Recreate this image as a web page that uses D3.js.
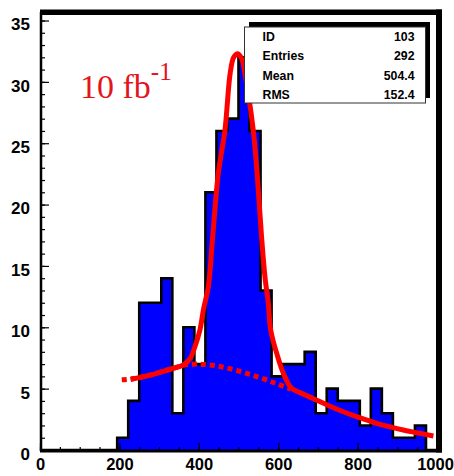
<!DOCTYPE html>
<html>
<head>
<meta charset="utf-8">
<script src="https://cdn.jsdelivr.net/npm/d3@7"></script>
<style>
  html, body { margin: 0; padding: 0; background: #fff; }
  svg { display: block; }
</style>
</head>
<body>
<svg id="chart" width="454" height="476"></svg>
<script>
// ---- data ----
const binLow = 0, binHigh = 1000, nBins = 36;
const binCounts = [0,0,0,0,0,0,0,1,4,12,12,14,3,10,7,21,26,27,32,26,13,6,7,7,8,3,5,4,4,2,5,3,1,1,2,0];
const xTicks = [0, 200, 400, 600, 800, 1000];
const yTicks = [0, 5, 10, 15, 20, 25, 30, 35];
// total fit (signal + background)
const fitX = [228, 277, 319, 361, 378, 390, 403, 412, 424, 435, 449, 466, 479, 488, 498, 508, 516, 537, 547, 558, 567, 575, 580, 588, 596, 613, 634, 660, 688, 725, 764, 805, 848, 880, 915, 950, 991];
const fitY = [5.75, 6.1, 6.5, 6.93, 7.45, 8.4, 9.8, 11.5, 13.3, 17.4, 22.5, 26.1, 30.7, 32.0, 32.3, 31.9, 30.7, 26.1, 22.5, 17.4, 14.0, 12.0, 10.0, 8.8, 7.9, 6.25, 5.03, 4.6, 4.2, 3.65, 3.12, 2.63, 2.17, 1.9, 1.63, 1.4, 1.14];
// background component (dashed)
const bkgX = [206, 231, 277, 319, 361, 395, 445, 504, 554, 596, 632];
const bkgY = [5.72, 5.8, 6.1, 6.5, 6.9, 7.0, 6.85, 6.4, 5.9, 5.4, 4.95];
const statLabels = ["ID", "Entries", "Mean", "RMS"];
const statValues = ["103", "292", "504.4", "152.4"];

// ---- drawing ----
const svg = d3.select("#chart");
const x = d3.scaleLinear().domain([0, 1000]).range([40, 437]);
const y = d3.scaleLinear().domain([0, 35]).range([450, 20.5]);
const bw = (binHigh - binLow) / nBins;
const bins = binCounts.map((c, i) => ({ x0: binLow + i * bw, x1: binLow + (i + 1) * bw, c }));

// frame heavy borders (top & right)
svg.append("rect").attr("x", 40).attr("y", 9.5).attr("width", 402).attr("height", 5.5).attr("fill", "#000");
svg.append("rect").attr("x", 436).attr("y", 9.5).attr("width", 6).attr("height", 443).attr("fill", "#000");

// histogram step points
const stepPts = [];
bins.forEach(b => { stepPts.push([b.x0, b.c]); stepPts.push([b.x1, b.c]); });

// histogram fill as one area
svg.append("path")
  .attr("d", d3.area().x(d => x(d[0])).y0(y(0)).y1(d => y(d[1]))(stepPts))
  .attr("fill", "#0000ff");

// histogram step outline
svg.append("path")
  .attr("d", d3.line().x(d => x(d[0])).y(d => y(d[1]))(stepPts))
  .attr("fill", "none").attr("stroke", "#000").attr("stroke-width", 2.6).attr("stroke-linejoin", "miter");

// curves
const curveLine = d3.line().x(d => x(d[0])).y(d => y(d[1])).curve(d3.curveCatmullRom.alpha(0.5));
svg.append("path").attr("d", curveLine(bkgX.map((v, i) => [v, bkgY[i]])))
  .attr("fill", "none").attr("stroke", "#ff0000").attr("stroke-width", 5)
  .attr("stroke-dasharray", "5,4");
svg.append("path").attr("d", curveLine(fitX.map((v, i) => [v, fitY[i]])))
  .attr("fill", "none").attr("stroke", "#ff0000").attr("stroke-width", 5)
  .attr("stroke-linecap", "butt");

// axes
const fontAx = "'Liberation Sans', Arial, Helvetica, sans-serif";
const yMinor = d3.range(0, 36, 1);
const xMinor = d3.range(0, 1001, 50);

const gyMinor = svg.append("g").attr("transform", "translate(41,0)")
  .call(d3.axisLeft(y).tickValues(yMinor).tickSize(-4).tickFormat(""));
gyMinor.select(".domain").remove();
const gy = svg.append("g").attr("transform", "translate(41,0)")
  .call(d3.axisLeft(y).tickValues(yTicks).tickSizeInner(-8).tickSizeOuter(0).tickPadding(11).tickFormat(d3.format("d")));
gy.select(".domain").attr("stroke-width", 2.5).attr("d", "M0,12V451");
gy.selectAll("text").attr("dy", "0.55em").attr("font-size", 17).attr("font-weight", "bold").attr("font-family", fontAx).attr("fill", "#000");

const gxMinor = svg.append("g").attr("transform", "translate(0,451)")
  .call(d3.axisBottom(x).tickValues(xMinor).tickSize(-4).tickFormat(""));
gxMinor.select(".domain").remove();
const gx = svg.append("g").attr("transform", "translate(0,451)")
  .call(d3.axisBottom(x).tickValues(xTicks).tickSizeInner(-8).tickSizeOuter(0).tickPadding(7).tickFormat(d3.format("d")));
gx.select(".domain").attr("stroke-width", 3.2).attr("d", "M40,0H442");
gx.selectAll("text").attr("font-size", 16.5).attr("font-weight", "bold").attr("font-family", fontAx).attr("fill", "#000");
gx.selectAll("text").filter(d => d === 1000).attr("dx", -2);
svg.selectAll(".tick line").attr("stroke", "#000").attr("stroke-width", 1.2);

// stats box
svg.append("rect").attr("x", 249).attr("y", 22).attr("width", 181).attr("height", 76).attr("fill", "#000");
svg.append("rect").attr("x", 244.5).attr("y", 27).attr("width", 181).attr("height", 76)
  .attr("fill", "#fff").attr("stroke", "#333").attr("stroke-width", 1);
const rowY = [40.7, 60.3, 79.9, 99.4];
svg.append("g").selectAll("text").data(statLabels).join("text")
  .attr("x", 262.5).attr("y", (d, i) => rowY[i]).text(d => d)
  .attr("font-size", 12.3).attr("font-weight", "bold").attr("font-family", fontAx).attr("fill", "#000");
svg.append("g").selectAll("text").data(statValues).join("text")
  .attr("x", 414.5).attr("y", (d, i) => rowY[i]).attr("text-anchor", "end").text(d => d)
  .attr("font-size", 12.3).attr("font-weight", "bold").attr("font-family", fontAx).attr("fill", "#000");

// luminosity label
const lum = svg.append("text").attr("x", 80).attr("y", 98)
  .attr("font-family", "'Liberation Serif', 'Times New Roman', serif").attr("font-size", 34).attr("fill", "#e5141b");
lum.append("tspan").text("10 fb");
lum.append("tspan").attr("font-size", 25).attr("dy", -18).text("-1");
</script>
</body>
</html>
